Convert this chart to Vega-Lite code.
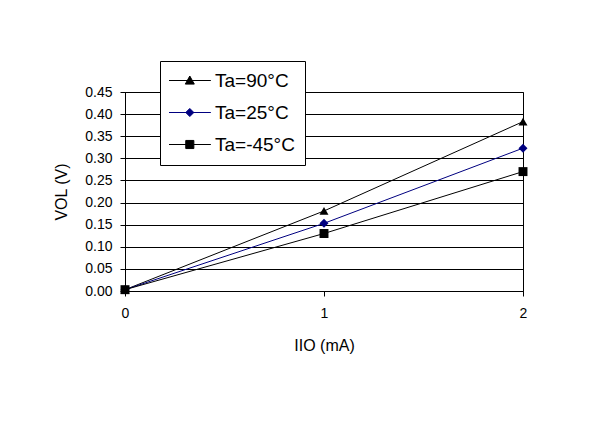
{
  "$schema": "https://vega.github.io/schema/vega-lite/v6.json",
  "width": 398,
  "height": 199,
  "autosize": {"type": "none"},
  "padding": {"left": 125, "top": 92, "right": 69, "bottom": 136},
  "background": "white",
  "config": {
    "font": "Liberation Sans",
    "view": {"stroke": "black", "strokeWidth": 1}
  },
  "data": {
    "values": [
      {"I": 0, "V": 0.003, "series": "Ta=90°C"},
      {"I": 1, "V": 0.181, "series": "Ta=90°C"},
      {"I": 2, "V": 0.383, "series": "Ta=90°C"},
      {"I": 0, "V": 0.003, "series": "Ta=25°C"},
      {"I": 1, "V": 0.153, "series": "Ta=25°C"},
      {"I": 2, "V": 0.323, "series": "Ta=25°C"},
      {"I": 0, "V": 0.003, "series": "Ta=-45°C"},
      {"I": 1, "V": 0.130, "series": "Ta=-45°C"},
      {"I": 2, "V": 0.270, "series": "Ta=-45°C"}
    ]
  },
  "encoding": {
    "x": {
      "field": "I",
      "type": "quantitative",
      "scale": {"domain": [0, 2], "nice": false, "zero": false},
      "axis": {
        "title": "IIO (mA)",
        "values": [0, 1, 2],
        "tickCount": 10,
        "format": ".0f",
        "grid": false,
        "labelOverlap": false,
        "labelFlush": false,
        "labelBound": false,
        "domainColor": "black",
        "tickColor": "black",
        "tickSize": 5,
        "labelPadding": 10,
        "labelFontSize": 14,
        "labelColor": "black",
        "titleFontSize": 16,
        "titleFontWeight": "normal",
        "titleColor": "black",
        "titlePadding": 17
      }
    },
    "y": {
      "field": "V",
      "type": "quantitative",
      "scale": {"domain": [0, 0.45], "nice": false},
      "axis": {
        "title": "VOL (V)",
        "values": [0, 0.05, 0.1, 0.15, 0.2, 0.25, 0.3, 0.35, 0.4, 0.45],
        "tickCount": 10,
        "format": ".2f",
        "grid": true,
        "labelOverlap": false,
        "labelFlush": false,
        "gridColor": "black",
        "gridOpacity": 1,
        "gridWidth": 1,
        "domainColor": "black",
        "tickColor": "black",
        "tickSize": 5,
        "labelPadding": 8,
        "labelFontSize": 14,
        "labelColor": "black",
        "titleFontSize": 16,
        "titleFontWeight": "normal",
        "titleColor": "black",
        "titlePadding": 15
      }
    }
  },
  "layer": [
    {
      "mark": {"type": "line", "strokeWidth": 1},
      "encoding": {
        "color": {
          "field": "series",
          "type": "nominal",
          "scale": {
            "domain": ["Ta=90°C", "Ta=25°C", "Ta=-45°C"],
            "range": ["black", "#000080", "black"]
          },
          "legend": {
            "orient": "none",
            "legendX": 35,
            "legendY": -31,
            "title": null,
            "fillColor": "white",
            "strokeColor": "black",
            "padding": 10,
            "rowPadding": 12,
            "labelFontSize": 19,
            "labelColor": "black",
            "symbolSize": 81,
            "symbolStrokeWidth": 1,
            "symbolOpacity": 1,
            "labelOffset": 26,
            "symbolType": {"expr": "datum.value === 'Ta=90°C' ? 'M-2.33,0H6.97M2.29,-1L3.29,0.8L1.29,0.8Z' : datum.value === 'Ta=25°C' ? 'M-2.33,0H6.97M1.39,0L2.29,-0.9L3.19,0L2.29,0.9Z' : 'M-2.33,0H6.97M1.39,-0.9H3.19V0.9H1.39Z'"},
            "symbolFillColor": {"expr": "datum.value === 'Ta=25°C' ? '#000080' : 'black'"}
          }
        }
      }
    },
    {
      "mark": {"type": "point", "filled": true, "size": 80, "opacity": 1},
      "encoding": {
        "color": {
          "field": "series",
          "type": "nominal",
          "legend": null
        },
        "shape": {
          "condition": [
            {"test": "datum.series === 'Ta=90°C'", "value": "triangle-up"},
            {"test": "datum.series === 'Ta=25°C'", "value": "diamond"}
          ],
          "value": "square"
        }
      }
    }
  ]
}
